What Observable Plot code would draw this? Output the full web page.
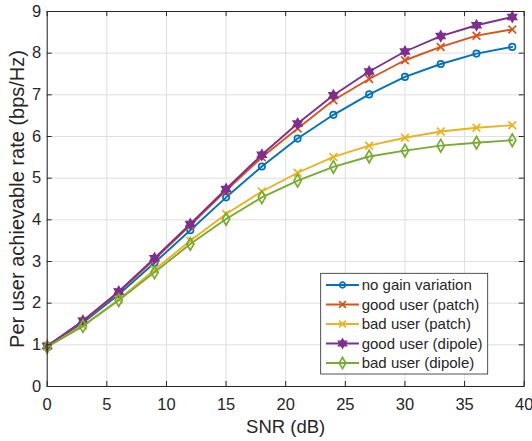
<!DOCTYPE html>
<html>
<head>
<meta charset="utf-8">
<script src="https://cdn.jsdelivr.net/npm/d3@7"></script>
<script src="https://cdn.jsdelivr.net/npm/@observablehq/plot@0.6"></script>
<style>
  html, body { margin: 0; padding: 0; background: #fff; }
  #chart svg { display: block; }
</style>
</head>
<body>
<div id="chart"></div>
<script>
const snr = [0, 3, 6, 9, 12, 15, 18, 21, 24, 27, 30, 33, 36, 39];
const noGain     = [0.97, 1.53, 2.21, 2.97, 3.75, 4.54, 5.28, 5.95, 6.52, 7.01, 7.43, 7.74, 7.99, 8.15];
const goodPatch  = [0.97, 1.56, 2.26, 3.05, 3.87, 4.70, 5.50, 6.19, 6.87, 7.38, 7.83, 8.15, 8.42, 8.57];
const badPatch   = [0.96, 1.46, 2.09, 2.80, 3.50, 4.14, 4.68, 5.13, 5.51, 5.78, 5.97, 6.12, 6.21, 6.27];
const goodDipole = [0.97, 1.58, 2.28, 3.08, 3.90, 4.74, 5.56, 6.31, 6.99, 7.56, 8.04, 8.41, 8.67, 8.87];
const badDipole  = [0.95, 1.45, 2.07, 2.74, 3.42, 4.02, 4.54, 4.94, 5.27, 5.52, 5.66, 5.78, 5.85, 5.91];

const seriesNames = ["no gain variation", "good user (patch)", "bad user (patch)", "good user (dipole)", "bad user (dipole)"];
const seriesValues = [noGain, goodPatch, badPatch, goodDipole, badDipole];
const colors = ["#0072BD", "#D95319", "#EDB120", "#7E2F8E", "#77AC30"];
const xTicks = [0, 5, 10, 15, 20, 25, 30, 35, 40];
const yTicks = [0, 1, 2, 3, 4, 5, 6, 7, 8, 9];
const xLabel = "SNR (dB)";
const yLabel = "Per user achievable rate (bps/Hz)";

const hexagram = {
  draw(ctx, size) {
    const R = Math.sqrt(size / Math.PI) * 1.35;
    const r = R / Math.sqrt(3);
    for (let i = 0; i < 12; i++) {
      const a = i * Math.PI / 6 - Math.PI / 2;
      const rr = i % 2 === 0 ? R : r;
      const x = rr * Math.cos(a), y = rr * Math.sin(a);
      if (i === 0) ctx.moveTo(x, y); else ctx.lineTo(x, y);
    }
    ctx.closePath();
  }
};
const symbols = ["circle", "times", "times", hexagram, "diamond"];
const filled = [false, false, false, true, false];
const symbolSizes = [3.2, 3.6, 3.6, 3.6, 3.8];

const rows = seriesValues.map((vals, k) => snr.map((s, i) => ({snr: s, rate: vals[i], k})));

const W = 532, H = 441;
const mL = 46.7, mR = 8.3, mT = 11, mB = 55;
const innerW = W - mL - mR, innerH = H - mT - mB;
const axisColor = "#262626";
const fontFam = "'Liberation Sans', Arial, Helvetica, sans-serif";

const marks = [
  Plot.gridX(xTicks, {stroke: "#dfdfdf", strokeOpacity: 1}),
  Plot.gridY(yTicks, {stroke: "#dfdfdf", strokeOpacity: 1}),
];
rows.forEach((data, k) => {
  marks.push(Plot.line(data, {x: "snr", y: "rate", stroke: colors[k], strokeWidth: 1.9}));
  marks.push(Plot.dot(data, {
    x: "snr", y: "rate", symbol: () => symbols[k], r: symbolSizes[k],
    stroke: colors[k], strokeWidth: 1.7,
    fill: filled[k] ? colors[k] : "none"
  }));
});
marks.push(
  Plot.tickX(xTicks, {x: d => d, stroke: axisColor, insetTop: innerH - 5}),
  Plot.tickX(xTicks, {x: d => d, stroke: axisColor, insetBottom: innerH - 5}),
  Plot.tickY(yTicks, {y: d => d, stroke: axisColor, insetRight: innerW - 5}),
  Plot.tickY(yTicks, {y: d => d, stroke: axisColor, insetLeft: innerW - 5}),
  Plot.frame({stroke: axisColor, strokeWidth: 1}),
  Plot.axisX(xTicks, {tickSize: 0, tickPadding: 12, fontSize: 16.5, label: null}),
  Plot.axisY(yTicks, {tickSize: 0, tickPadding: 6, fontSize: 16.5, label: null}),
  Plot.text([xLabel], {text: d => d, frameAnchor: "bottom", dy: 41, fontSize: 18.5, lineAnchor: "middle", fill: axisColor}),
  Plot.text([yLabel], {text: d => d, frameAnchor: "left", dx: -30, rotate: -90, fontSize: 20, lineAnchor: "middle", textAnchor: "middle", fill: axisColor})
);

const chart = Plot.plot({
  width: W, height: H,
  marginLeft: mL, marginRight: mR, marginTop: mT, marginBottom: mB,
  x: {domain: [0, 40]},
  y: {domain: [0, 9]},
  style: {fontFamily: fontFam, fontSize: "16.5px", color: axisColor, background: "#fff"},
  marks
});
document.getElementById("chart").appendChild(chart);

// Legend
const svg = d3.select(chart);
const lg = svg.append("g").attr("font-family", fontFam).attr("font-size", 15)
  .attr("fill", axisColor).attr("text-anchor", "start");
const bx = 320.7, by = 273.3, bw = 167, bh = 100.7;
lg.append("rect").attr("x", bx).attr("y", by).attr("width", bw).attr("height", bh)
  .attr("fill", "#fff").attr("stroke", axisColor).attr("stroke-width", 0.8);
const d3Symbols = [d3.symbolCircle, d3.symbolTimes, d3.symbolTimes, hexagram, d3.symbolDiamond];
seriesNames.forEach((name, k) => {
  const y = 285 + k * 19.5;
  lg.append("line").attr("x1", 326).attr("x2", 359).attr("y1", y).attr("y2", y)
    .attr("stroke", colors[k]).attr("stroke-width", 1.9);
  lg.append("path").attr("transform", `translate(342.5,${y})`)
    .attr("d", d3.symbol(d3Symbols[k], Math.PI * symbolSizes[k] * symbolSizes[k] * 0.8)())
    .attr("stroke", colors[k]).attr("stroke-width", 1.7)
    .attr("fill", filled[k] ? colors[k] : "none");
  lg.append("text").attr("x", 361.7).attr("y", y).attr("dy", "0.35em")
    .attr("text-anchor", "start").text(name);
});
</script>
</body>
</html>
